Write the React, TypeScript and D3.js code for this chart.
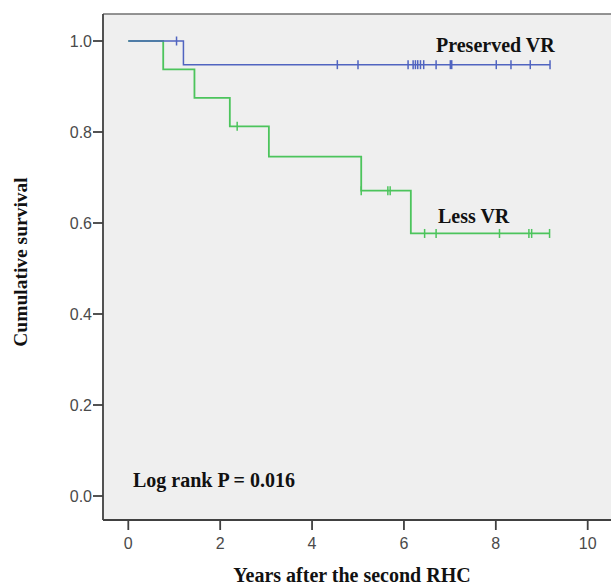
import React from "react";
import * as d3 from "d3";

// Kaplan-Meier step data
const preservedSteps = [
  { t: 0, s: 1.0 },
  { t: 1.2, s: 0.948 },
];
const preservedEnd = 9.18;
const preservedCensor = [1.05, 4.55, 5.0, 6.09, 6.2, 6.25, 6.3, 6.36, 6.43, 6.7, 7.01, 7.04, 8.01, 8.33, 8.75, 9.18];

const lessSteps = [
  { t: 0, s: 1.0 },
  { t: 0.76, s: 0.9375 },
  { t: 1.44, s: 0.875 },
  { t: 2.21, s: 0.8125 },
  { t: 3.06, s: 0.746 },
  { t: 5.07, s: 0.671 },
  { t: 6.15, s: 0.577 },
];
const lessEnd = 9.17;
const lessCensor = [2.37, 5.07, 5.65, 5.7, 6.45, 6.7, 8.08, 8.72, 8.78, 9.17];

const xTicks = [0, 2, 4, 6, 8, 10];
const yTicks = [0, 0.2, 0.4, 0.6, 0.8, 1.0];

const BLUE = "#5064c0";
const GREEN = "#4cc45c";
const AXIS = "#404040";

const left = 103, top = 14, bottom = 520, right = 620;

const x = d3.scaleLinear().domain([0, 10]).range([128.3, 587.7]);
const y = d3.scaleLinear().domain([0, 1]).range([496, 41]);

function stepPath(steps: { t: number; s: number }[], end: number) {
  const pts: [number, number][] = steps.map((d) => [d.t, d.s]);
  pts.push([end, steps[steps.length - 1].s]);
  const line = d3.line<[number, number]>()
    .x((d) => x(d[0]))
    .y((d) => y(d[1]))
    .curve(d3.curveStepAfter);
  return line(pts) || "";
}

function survAt(steps: { t: number; s: number }[], t: number) {
  let s = steps[0].s;
  for (const d of steps) if (d.t <= t) s = d.s;
  return s;
}

function Censors({ steps, times, color }: { steps: { t: number; s: number }[]; times: number[]; color: string }) {
  return (
    <g stroke={color} strokeWidth={1.5}>
      {times.map((t, i) => {
        const cx = x(t);
        const cy = y(survAt(steps, t));
        return <line key={i} x1={cx} x2={cx} y1={cy - 4.5} y2={cy + 4.5} />;
      })}
    </g>
  );
}

export default function App() {
  const serif = "'Liberation Serif', 'Times New Roman', serif";
  const sans = "'Liberation Sans', Arial, sans-serif";
  return (
    <svg width={611} height={585} style={{ position: "absolute", left: 0, top: 0, background: "#fff" }}>
      <rect x={left} y={top} width={right - left} height={bottom - top} fill="#efefef" />
      <line x1={left} x2={right} y1={top} y2={top} stroke="#707070" strokeWidth={1.6} />
      <line x1={left} x2={left} y1={top} y2={bottom} stroke={AXIS} strokeWidth={1.8} />
      <line x1={left} x2={right} y1={bottom} y2={bottom} stroke={AXIS} strokeWidth={1.8} />

      {yTicks.map((v) => (
        <g key={v}>
          <line x1={left - 10} x2={left} y1={y(v)} y2={y(v)} stroke={AXIS} strokeWidth={1.8} />
          <text x={left - 11} y={y(v)} dy="0.36em" textAnchor="end" fontFamily={sans} fontSize={16} fill="#4a4a4a">
            {v.toFixed(1)}
          </text>
        </g>
      ))}
      {xTicks.map((v) => (
        <g key={v}>
          <line x1={x(v)} x2={x(v)} y1={bottom} y2={bottom + 10} stroke={AXIS} strokeWidth={1.8} />
          <text x={x(v)} y={549} textAnchor="middle" fontFamily={sans} fontSize={16} fill="#4a4a4a">
            {v}
          </text>
        </g>
      ))}

      <path d={stepPath(lessSteps, lessEnd)} fill="none" stroke={GREEN} strokeWidth={1.8} />
      <path d={stepPath(preservedSteps, preservedEnd)} fill="none" stroke={BLUE} strokeWidth={1.5} />
      <Censors steps={lessSteps} times={lessCensor} color={GREEN} />
      <Censors steps={preservedSteps} times={preservedCensor} color={BLUE} />

      <text x={436} y={52} fontFamily={serif} fontWeight="bold" fontSize={20} fill="#111">Preserved VR</text>
      <text x={438} y={223} fontFamily={serif} fontWeight="bold" fontSize={20} fill="#111">Less VR</text>
      <text x={133} y={487} fontFamily={serif} fontWeight="bold" fontSize={20} fill="#111">Log rank P = 0.016</text>

      <text x={352} y={582} textAnchor="middle" fontFamily={serif} fontWeight="bold" fontSize={20} fill="#111">
        Years after the second RHC
      </text>
      <text transform="translate(27,262) rotate(-90)" textAnchor="middle" fontFamily={serif} fontWeight="bold" fontSize={19.5} fill="#111">
        Cumulative survival
      </text>
    </svg>
  );
}
